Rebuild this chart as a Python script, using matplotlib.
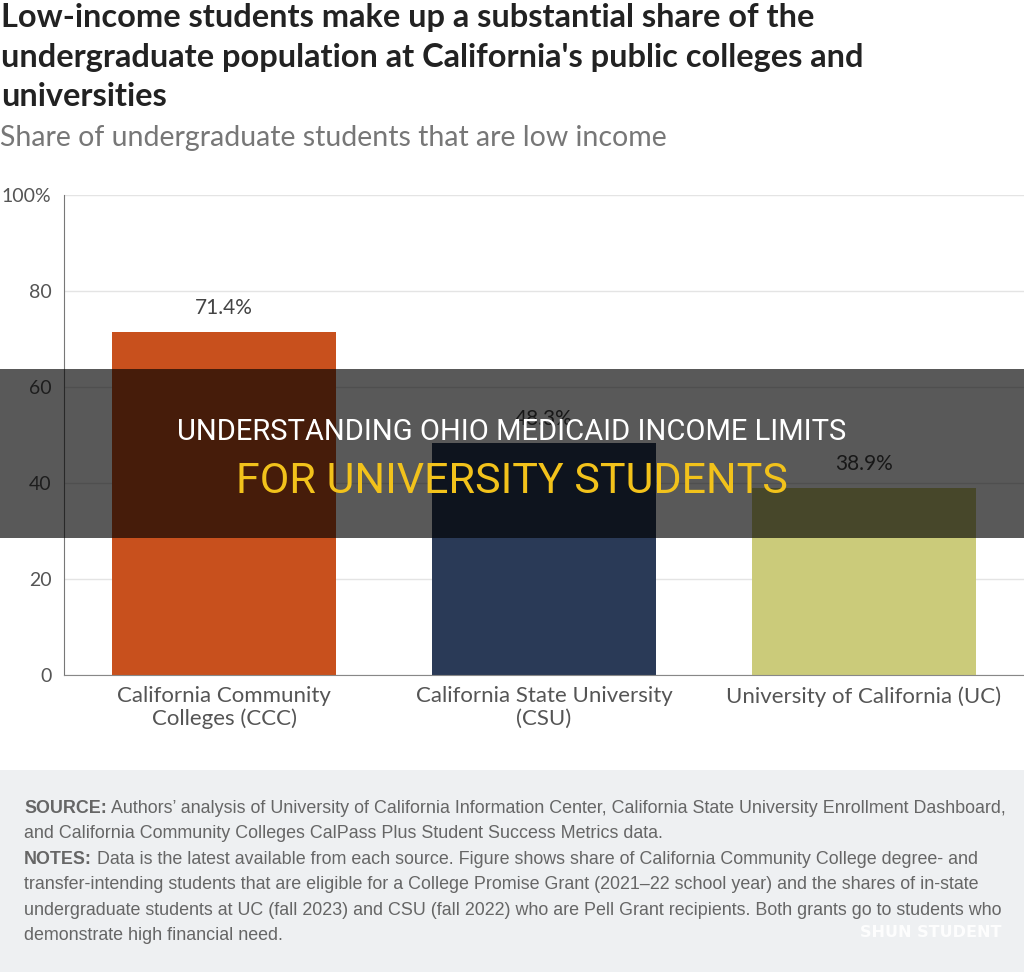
import matplotlib

matplotlib.use('Agg')
import matplotlib.pyplot as plt
from matplotlib.patches import Rectangle

# data
categories = ["California Community\nColleges (CCC)",
              "California State University\n(CSU)",
              "University of California (UC)"]
shares = [71.4, 48.3, 38.9]
bar_colors = ["#c8501d", "#2a3a57", "#cbcb7a"]
y_ticks = [0, 20, 40, 60, 80, 100]
y_tick_labels = ["0", "20", "40", "60", "80", "100%"]

title = ("Low-income students make up a substantial share of the\n"
         "undergraduate population at California's public colleges and\n"
         "universities")
subtitle = "Share of undergraduate students that are low income"
footer_lines = [
    ("SOURCE:", " Authors\u2019 analysis of University of California Information Center, California State University Enrollment Dashboard,"),
    ("", "and California Community Colleges CalPass Plus Student Success Metrics data."),
    ("NOTES:", " Data is the latest available from each source. Figure shows share of California Community College degree- and"),
    ("", "transfer-intending students that are eligible for a College Promise Grant (2021\u201322 school year) and the shares of in-state"),
    ("", "undergraduate students at UC (fall 2023) and CSU (fall 2022) who are Pell Grant recipients. Both grants go to students who"),
    ("", "demonstrate high financial need."),
]
overlay_line1 = "UNDERSTANDING OHIO MEDICAID INCOME LIMITS"
overlay_line2 = "FOR UNIVERSITY STUDENTS"

W, H = 1024, 972
fig = plt.figure(figsize=(W / 100, H / 100), dpi=100)


def fy(py):
    return 1 - py / H


# titles
for i, line in enumerate(title.split("\n")):
    fig.text(1 / W, fy(18 + i * 39), line, fontsize=23.4, fontweight='bold', family='Lato',
             color='#222222', va='center', ha='left')
fig.text(0, fy(138), subtitle, fontsize=20.5, family='Lato', color='#777777',
         va='center', ha='left')

# chart
ax = fig.add_axes([64 / W, fy(675), 1 - 64 / W, (675 - 195) / H])
x = range(len(categories))
bars = ax.bar(x, shares, width=0.7, color=bar_colors, zorder=2)
for xi, v in zip(x, shares):
    ax.text(xi, v + 3, f"{v}%", ha='center', va='bottom', fontsize=15,
            family='Lato', color='#444444')
ax.set_xlim(-0.5, 2.5)
ax.set_ylim(0, 100)
ax.set_yticks(y_ticks)
ax.set_yticklabels(y_tick_labels, family='Lato', fontsize=14, color='#555555')
ax.set_xticks(list(x))
ax.set_xticklabels(categories, family='Lato', fontsize=16, color='#555555',
                   linespacing=1.15)
ax.tick_params(axis='y', length=0, pad=9)
ax.tick_params(axis='x', length=0, pad=8)
ax.grid(axis='y', color='#e4e4e4', linewidth=1, zorder=0)
for s in ['top', 'right']:
    ax.spines[s].set_visible(False)
ax.spines['left'].set_color('#777777')
ax.spines['bottom'].set_color('#888888')

# footer box
fig.patches.append(Rectangle((0, 0), 1, fy(770), transform=fig.transFigure,
                             facecolor='#eef0f2', edgecolor='none', zorder=0))
y0 = 808
for i, (bold, rest) in enumerate(footer_lines):
    py = y0 + i * 25.5
    t = fig.text(24 / W, fy(py), bold, fontsize=12.9, fontweight='bold',
                 family='Liberation Sans', color='#666666', va='center')
    if bold:
        fig.canvas.draw()
        bb = t.get_window_extent()
        xs = bb.x1 / W
    else:
        xs = 24 / W
    fig.text(xs, fy(py), rest, fontsize=12.9, family='Liberation Sans',
             color='#666666', va='center')
fig.text(1002 / W, fy(932), "SHUN STUDENT", fontsize=11.5, fontweight='bold',
         family='DejaVu Sans', color='white', ha='right', va='center', alpha=0.9)

# dark banner overlay
fig.patches.append(Rectangle((0, fy(538)), 1, (538 - 369) / H, transform=fig.transFigure,
                             facecolor='black', alpha=0.65, edgecolor='none', zorder=10))
fig.text(0.5, fy(432), overlay_line1, fontsize=21, family='Roboto',
         color='white', ha='center', va='center', zorder=11)
fig.text(0.5, fy(481), overlay_line2, fontsize=31, family='Roboto',
         color='#f2c21b', ha='center', va='center', zorder=11)

fig.savefig('out.png', dpi=100)
